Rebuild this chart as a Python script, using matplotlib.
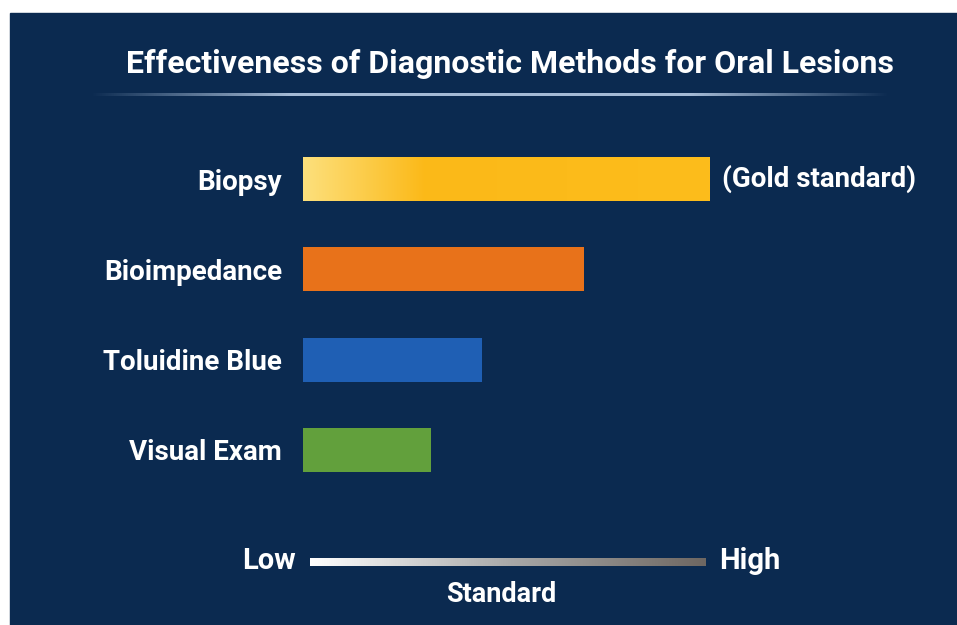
import numpy as np
import matplotlib.pyplot as plt
from matplotlib.colors import LinearSegmentedColormap
from matplotlib.patches import Rectangle

# data
methods = ["Biopsy", "Bioimpedance", "Toluidine Blue", "Visual Exam"]
scores = [100, 69, 44, 31.5]
bar_colors = ["#fbb918", "#e8721a", "#1f5fb4", "#62a03c"]
top_note = "(Gold standard)"
scale_labels = ["Low", "High", "Standard"]
title = "Effectiveness of Diagnostic Methods for Oral Lesions"

W, H = 957, 625
navy = "#0b2a50"
font = ["Roboto", "DejaVu Sans"]

fig = plt.figure(figsize=(W / 100, H / 100), dpi=100)
fig.patch.set_facecolor("white")

# background layer in pixel coords
bg = fig.add_axes([0, 0, 1, 1])
bg.set_xlim(0, W)
bg.set_ylim(H, 0)
bg.axis("off")
bg.add_patch(Rectangle((10, 13), W - 10, H - 13, color=navy, zorder=0))

# title and separator line
bg.text(510, 64, title, color="white", fontsize=23, fontweight="bold",
        family=font, ha="center", va="center")
xs = np.linspace(0, 1, 400)
fade = np.clip(np.minimum(xs, 1 - xs) / 0.25, 0, 1)
line_img = np.zeros((1, 400, 4))
line_img[..., :3] = np.array([0.72, 0.80, 0.90])
line_img[0, :, 3] = fade * 0.9
bg.imshow(line_img, extent=(90, 890, 96, 93), aspect="auto", zorder=1)

# bar chart
ax = fig.add_axes([303 / W, 1 - 495 / H, 407 / W, 361 / H])
ax.set_facecolor("none")
ypos = np.arange(len(methods))
bars = ax.barh(ypos, scores, height=0.49, color=bar_colors, zorder=2)
ax.set_xlim(0, 100)
ax.set_ylim(len(methods) - 0.5, -0.5)
ax.set_yticks(ypos)
ax.set_yticklabels(methods, color="white", fontsize=20, fontweight="bold", family=font)
ax.tick_params(axis="y", length=0, pad=15)
ax.set_xticks([])
for s in ax.spines.values():
    s.set_visible(False)

# gold gradient on the biopsy bar
gold = LinearSegmentedColormap.from_list(
    "gold", [(0, "#fde07c"), (0.3, "#fbb918"), (1, "#fdbd1c")])
b0 = bars[0]
grad = ax.imshow(np.linspace(0, 1, 256)[None, :], cmap=gold, aspect="auto",
                 extent=(0, scores[0], b0.get_y() + b0.get_height(), b0.get_y()),
                 zorder=3)
grad.set_clip_path(b0)
ax.set_xlim(0, 100)
ax.set_ylim(len(methods) - 0.5, -0.5)

ax.annotate(top_note, xy=(scores[0], 0), xytext=(9, 0), textcoords="offset points",
            color="white", fontsize=20, fontweight="bold", family=font,
            ha="left", va="center")

# Low - High standard scale
scale = LinearSegmentedColormap.from_list(
    "scale", [(0, "#ffffff"), (0.5, "#a9a9a9"), (1, "#6e6762")])
bg.imshow(np.linspace(0, 1, 256)[None, :], cmap=scale, aspect="auto",
          extent=(310, 706, 566, 558), zorder=2)
bg.text(296, 561, scale_labels[0], color="white", fontsize=21, fontweight="bold",
        family=font, ha="right", va="center")
bg.text(719, 561, scale_labels[1], color="white", fontsize=21, fontweight="bold",
        family=font, ha="left", va="center")
bg.text(501, 595, scale_labels[2], color="white", fontsize=19.5, fontweight="bold",
        family=font, ha="center", va="center")
bg.set_xlim(0, W)
bg.set_ylim(H, 0)

fig.savefig("out.png", dpi=100, facecolor=fig.get_facecolor())
